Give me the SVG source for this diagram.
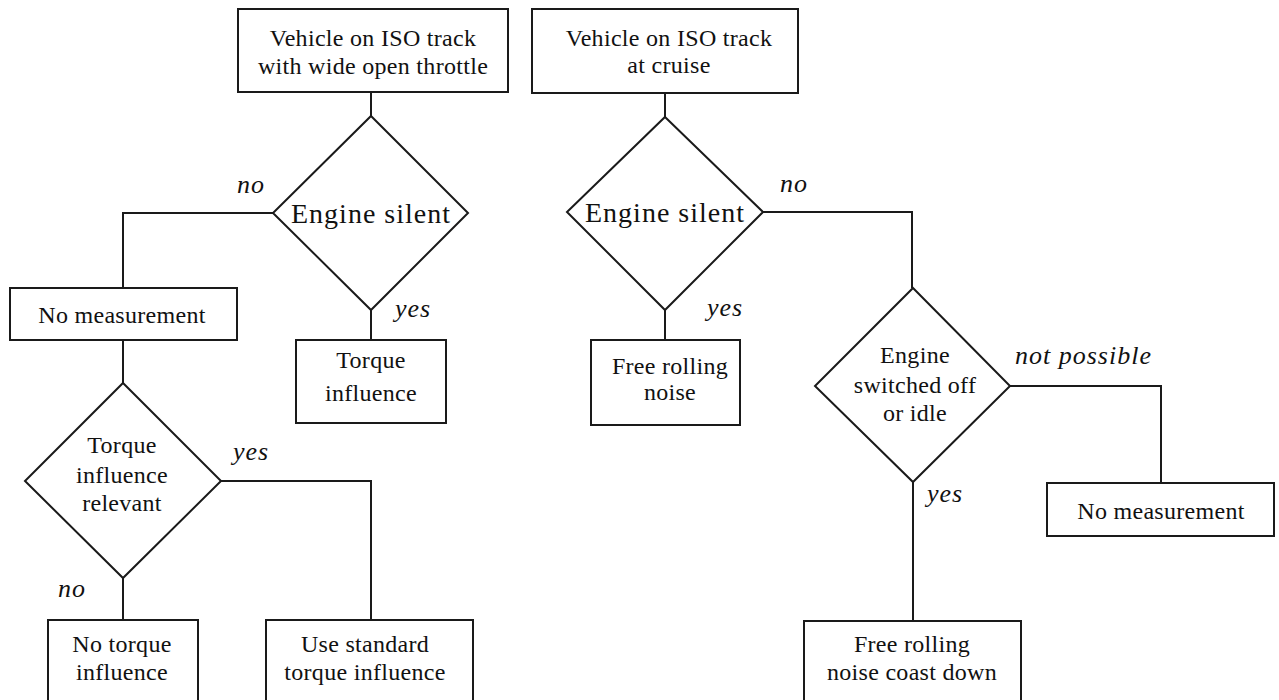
<svg xmlns="http://www.w3.org/2000/svg" width="1279" height="700" viewBox="0 0 1279 700">
<style>
.box{fill:#fff;stroke:#1a1a1a;stroke-width:2}
.ln{fill:none;stroke:#1a1a1a;stroke-width:2}
text{font-family:"Liberation Serif","Times New Roman",serif;fill:#111;text-anchor:middle}
.t{font-size:24px;letter-spacing:0.3px}
.big{font-size:28px;letter-spacing:1px}
.lab{font-size:26px;font-style:italic;letter-spacing:1px;text-anchor:start}
</style>
<rect width="1279" height="700" fill="#fff"/>
<g id="connectors">
<path class="ln" d="M371,92 V116"/>
<path class="ln" d="M273,213 H123 V288"/>
<path class="ln" d="M371,310 V340"/>
<path class="ln" d="M123,340 V383"/>
<path class="ln" d="M221,481 H371 V620"/>
<path class="ln" d="M123,578 V620"/>
<path class="ln" d="M665,93 V117"/>
<path class="ln" d="M763,212 H912 V288"/>
<path class="ln" d="M665,310 V340"/>
<path class="ln" d="M1010,386 H1161 V483"/>
<path class="ln" d="M913,482 V621"/>
</g>
<g id="start1">
<rect class="box" x="238" y="9" width="270" height="83"/>
<text class="t" x="373" y="46">Vehicle on ISO track</text>
<text class="t" x="373" y="74">with wide open throttle</text>
</g>
<g id="decision1">
<polygon class="box" points="371,116 468,213 371,310 273,213"/>
<text class="big" x="371" y="223">Engine silent</text>
</g>
<g id="nomeas1">
<rect class="box" x="10" y="288" width="227" height="52"/>
<text class="t" x="122" y="323">No measurement</text>
</g>
<g id="torque">
<rect class="box" x="296" y="340" width="150" height="83"/>
<text class="t" x="371" y="368">Torque</text>
<text class="t" x="371" y="401">influence</text>
</g>
<g id="decision2">
<polygon class="box" points="123,383 221,481 123,578 25,481"/>
<text class="t" x="122" y="453">Torque</text>
<text class="t" x="122" y="483">influence</text>
<text class="t" x="122" y="511">relevant</text>
</g>
<g id="notorque">
<rect class="box" x="48" y="620" width="150" height="85"/>
<text class="t" x="122" y="652">No torque</text>
<text class="t" x="122" y="680">influence</text>
</g>
<g id="stdtorque">
<rect class="box" x="266" y="620" width="207" height="85"/>
<text class="t" x="365" y="652">Use standard</text>
<text class="t" x="365" y="680">torque influence</text>
</g>
<g id="start2">
<rect class="box" x="532" y="9" width="266" height="84"/>
<text class="t" x="669" y="46">Vehicle on ISO track</text>
<text class="t" x="669" y="73">at cruise</text>
</g>
<g id="decision3">
<polygon class="box" points="665,117 763,212 665,310 567,212"/>
<text class="big" x="665" y="222">Engine silent</text>
</g>
<g id="freerolling">
<rect class="box" x="591" y="340" width="149" height="85"/>
<text class="t" x="670" y="374">Free rolling</text>
<text class="t" x="670" y="400">noise</text>
</g>
<g id="decision4">
<polygon class="box" points="913,288 1010,386 913,482 815,386"/>
<text class="t" x="915" y="363">Engine</text>
<text class="t" x="915" y="393">switched off</text>
<text class="t" x="915" y="421">or idle</text>
</g>
<g id="nomeas2">
<rect class="box" x="1047" y="483" width="227" height="53"/>
<text class="t" x="1161" y="519">No measurement</text>
</g>
<g id="coastdown">
<rect class="box" x="804" y="621" width="217" height="84"/>
<text class="t" x="912" y="652">Free rolling</text>
<text class="t" x="912" y="680">noise coast down</text>
</g>
<g id="labels">
<text class="lab" x="237" y="193">no</text>
<text class="lab" x="395" y="317">yes</text>
<text class="lab" x="233" y="460">yes</text>
<text class="lab" x="58" y="597">no</text>
<text class="lab" x="780" y="192">no</text>
<text class="lab" x="707" y="316">yes</text>
<text class="lab" x="1015" y="364">not possible</text>
<text class="lab" x="927" y="502">yes</text>
</g>
</svg>
